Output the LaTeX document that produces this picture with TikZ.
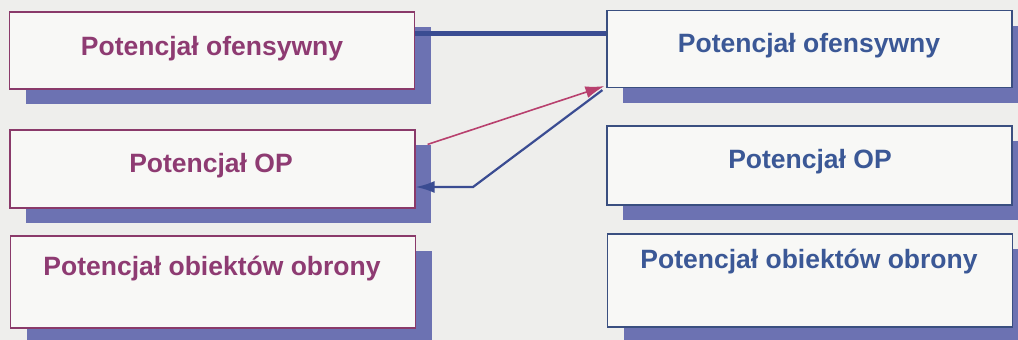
\documentclass[tikz,border=0pt]{standalone}
\usepackage{fontspec}
\setmainfont{Liberation Sans}
\usetikzlibrary{arrows.meta,calc,shadows}
\definecolor{pagebg}{HTML}{EEEEEC}
\definecolor{boxfill}{HTML}{F8F8F6}
\definecolor{shadowblue}{HTML}{6C72B2}
\definecolor{plum}{HTML}{8E3B72}
\definecolor{plumline}{HTML}{8A3A6A}
\definecolor{steel}{HTML}{3B5896}
\definecolor{steelline}{HTML}{3A4F80}
\definecolor{linkblue}{HTML}{3A4C92}
\definecolor{linkred}{HTML}{B8406E}
\tikzset{
  panel/.style={rectangle, fill=boxfill, line width=1.2pt,
    minimum width=405pt, minimum height=77pt, inner sep=0pt,
    general shadow={fill=shadowblue, shadow xshift=16pt, shadow yshift=-15pt}},
  leftpanel/.style={panel, draw=plumline},
  rightpanel/.style={panel, draw=steelline},
  caption/.style={anchor=base, inner sep=0pt, font=\fontsize{26.5}{30}\selectfont\bfseries},
  leftcap/.style={caption, text=plum},
  rightcap/.style={caption, text=steel},
  boldlink/.style={draw=linkblue, line width=4.8pt},
  redarrow/.style={draw=linkred, line width=1.6pt, -{Latex[length=19pt,width=12pt]}},
  bluearrow/.style={draw=linkblue, line width=2.2pt, -{Latex[length=19pt,width=12pt]}}
}
\begin{document}
\begin{tikzpicture}[x=1pt,y=-1pt]
  \useasboundingbox (0,0) rectangle (1018,340);
  \fill[pagebg] (0,0) rectangle (1018,340);
  \clip (0,0) rectangle (1018,340);

  % left column
  \node[leftpanel] (L1) at (212,50.5) {};
  \node[leftpanel, minimum height=78pt] (L2) at (212.5,169) {};
  \node[leftpanel, minimum height=92pt] (L3) at (213,282) {};
  \node[leftcap] (L1t) at (212,55) {Potencjał ofensywny};
  \node[leftcap] (L2t) at (211,172) {Potencjał OP};
  \node[leftcap] (L3t) at (212,275) {Potencjał obiektów obrony};

  % right column
  \node[rightpanel] (R1) at (809.5,49) {};
  \node[rightpanel, minimum height=79pt] (R2) at (809.5,165.5) {};
  \node[rightpanel, minimum height=93pt] (R3) at (810,280.5) {};
  \node[rightcap] (R1t) at (809,52) {Potencjał ofensywny};
  \node[rightcap] (R2t) at (810,168) {Potencjał OP};
  \node[rightcap] (R3t) at (809,268) {Potencjał obiektów obrony};

  % connectors
  \coordinate (linkstart) at ($(L1.north east)+(0,22)$);
  \coordinate (bend) at (473,187);
  \draw[boldlink] (linkstart) -- (linkstart -| R1.west);
  \draw[redarrow] ($(L2.north east)+(12,15)$) -- ($(R1.south west)+(-2,-2)$);
  \draw[bluearrow] ($(R1.south west)+(-4,2)$) -- (bend) -- (L2.east |- bend);
\end{tikzpicture}
\end{document}
